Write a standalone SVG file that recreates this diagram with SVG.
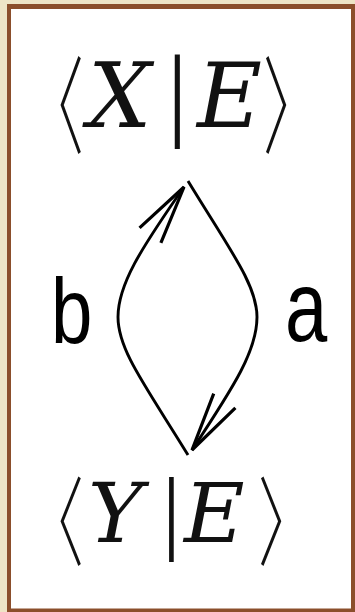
<svg xmlns="http://www.w3.org/2000/svg" width="355" height="612" viewBox="0 0 355 612">
<style>
.math{font-family:"DejaVu Serif",serif;font-style:italic;fill:#111}
.br{font-family:"Noto Sans CJK SC","Noto Sans CJK JP",sans-serif;font-weight:300;font-style:normal;fill:#111}
.bar{font-family:"Liberation Serif",serif;font-style:normal;fill:#111}
.lbl{font-family:"Liberation Sans",Arial,sans-serif;fill:#000}
.edge{fill:none;stroke:#000;stroke-width:2.9}
</style>
<defs>
<marker id="arr" markerUnits="userSpaceOnUse" markerWidth="80" markerHeight="40" refX="0" refY="0" orient="auto" overflow="visible">
<path d="M-59,-13 L0,0 L-59,13" fill="none" stroke="#000" stroke-width="3.2"/>
</marker>
</defs>
<rect x="0" y="0" width="355" height="612" fill="#eee4c6"/>
<rect x="7" y="4" width="348" height="608" fill="#8b4e2b"/>
<rect x="11" y="9" width="340" height="599.5" fill="#ffffff"/>
<g id="node-XE">
<text class="br" transform="translate(25,145) scale(0.555,1)" font-size="106">〈</text>
<text y="127"><tspan class="math" x="88" font-size="89">X</tspan><tspan class="bar" x="167" font-size="103">|</tspan><tspan class="math" x="197" font-size="89">E</tspan></text>
<text class="br" transform="translate(263,145) scale(0.555,1)" font-size="106">〉</text>
</g>
<g id="node-YE">
<text class="br" transform="translate(25,558) scale(0.606,1)" font-size="97">〈</text>
<text y="542"><tspan class="math" x="88" font-size="83">Y</tspan><tspan class="bar" x="162" font-size="94">|</tspan><tspan class="math" x="184" font-size="83">E</tspan></text>
<text class="br" transform="translate(258,558) scale(0.606,1)" font-size="97">〉</text>
</g>
<g id="connectors">
<path id="edge-a" class="edge" d="M188,181 C230,250 257,285 257,317 C257,350 235,385 192,450" marker-end="url(#arr)"/>
<path id="edge-b" class="edge" d="M188,455 C145,385 118,350 118,317 C118,285 140,250 184,187" marker-end="url(#arr)"/>
</g>
<g id="labels">
<text class="lbl" transform="translate(51,343) scale(0.8,1)" font-size="93">b</text>
<text class="lbl" transform="translate(285,341) scale(0.76,1)" font-size="100">a</text>
</g>
</svg>
